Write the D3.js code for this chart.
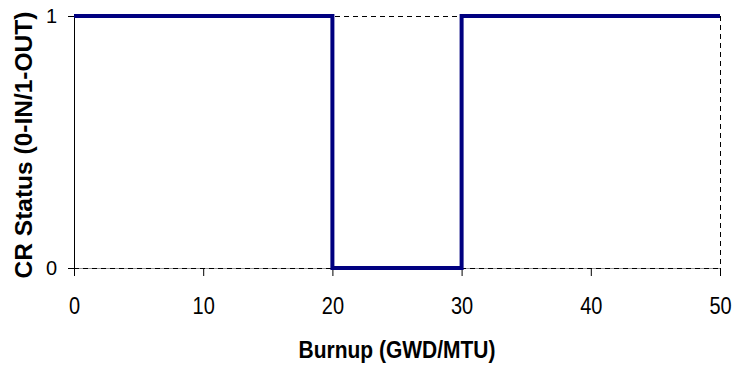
<!DOCTYPE html>
<html>
<head>
<meta charset="utf-8">
<script src="https://cdn.jsdelivr.net/npm/d3@7"></script>
<style>
  body { margin: 0; background: #fff; }
  text { font-family: "Liberation Sans", Arial, sans-serif; fill: #000; }
</style>
</head>
<body>
<svg id="chart"></svg>
<script>
const burnup = [0, 10, 20, 20, 30, 30, 40, 50];
const crStatus = [1, 1, 1, 0, 0, 1, 1, 1];
const xTicks = [0, 10, 20, 30, 40, 50];
const yTicks = [0, 1];

const width = 734;
const height = 367;
const margin = { top: 16, right: 14, bottom: 99, left: 74 };
const fontFamily = '"Liberation Sans", Arial, sans-serif';
const px = 0.5; // keep 1px lines crisp

const svg = d3.select('#chart')
  .attr('width', width)
  .attr('height', height);

const x = d3.scaleLinear().domain([0, 50]).range([margin.left, width - margin.right]);
const y = d3.scaleLinear().domain([0, 1]).range([height - margin.bottom, margin.top]);

// gridlines (dashed)
svg.append('line')
  .attr('x1', x(0)).attr('x2', x(50))
  .attr('y1', y(1) + px).attr('y2', y(1) + px)
  .attr('stroke', '#000').attr('stroke-width', 1)
  .attr('stroke-dasharray', '5,4');

svg.append('line')
  .attr('x1', x(50) + px).attr('x2', x(50) + px)
  .attr('y1', y(1)).attr('y2', y(0))
  .attr('stroke', '#000').attr('stroke-width', 1)
  .attr('stroke-dasharray', '5,4');

// x axis: grey solid under dashed black
svg.append('line')
  .attr('x1', x(0)).attr('x2', x(50))
  .attr('y1', y(0) + px).attr('y2', y(0) + px)
  .attr('stroke', '#999').attr('stroke-width', 1);
svg.append('line')
  .attr('x1', x(0)).attr('x2', x(50))
  .attr('y1', y(0) + px).attr('y2', y(0) + px)
  .attr('stroke', '#000').attr('stroke-width', 1)
  .attr('stroke-dasharray', '5,4');

const xTickLen = 8;
const xPad = 21;
const xAxis = d3.axisBottom(x).tickValues(xTicks).tickSize(xTickLen).tickSizeOuter(0);
const gx = svg.append('g')
  .attr('transform', `translate(0,${y(0)})`)
  .call(xAxis);
gx.select('.domain').remove();
// the original picture is a little stretched vertically
gx.selectAll('text')
  .attr('y', null)
  .attr('transform', `translate(0,${xTickLen + xPad}) scale(1,1.2)`)
  .style('font-size', '20px')
  .style('font-family', fontFamily);

const yAxis = d3.axisLeft(y).tickValues(yTicks).tickFormat(d3.format('d'))
  .tickSize(6).tickSizeOuter(0).tickPadding(11);
const gy = svg.append('g')
  .attr('transform', `translate(${x(0)},0)`)
  .call(yAxis);
gy.selectAll('text').style('font-size', '20px').style('font-family', fontFamily);

// step line
const line = d3.line()
  .x((d, i) => x(burnup[i]))
  .y(d => y(d));

svg.append('path')
  .datum(crStatus)
  .attr('fill', 'none')
  .attr('stroke', '#000080')
  .attr('stroke-width', 4)
  .attr('stroke-linejoin', 'miter')
  .attr('d', line);

// axis titles
svg.append('text')
  .attr('transform', `translate(${(x(0) + x(50)) / 2},358) scale(1,1.15)`)
  .attr('text-anchor', 'middle')
  .style('font-size', '21px')
  .style('font-weight', 'bold')
  .text('Burnup (GWD/MTU)');

svg.append('text')
  .attr('transform', 'translate(32,145) rotate(-90)')
  .attr('text-anchor', 'middle')
  .style('font-size', '24.5px')
  .style('font-weight', 'bold')
  .text('CR Status (0-IN/1-OUT)');
</script>
</body>
</html>
